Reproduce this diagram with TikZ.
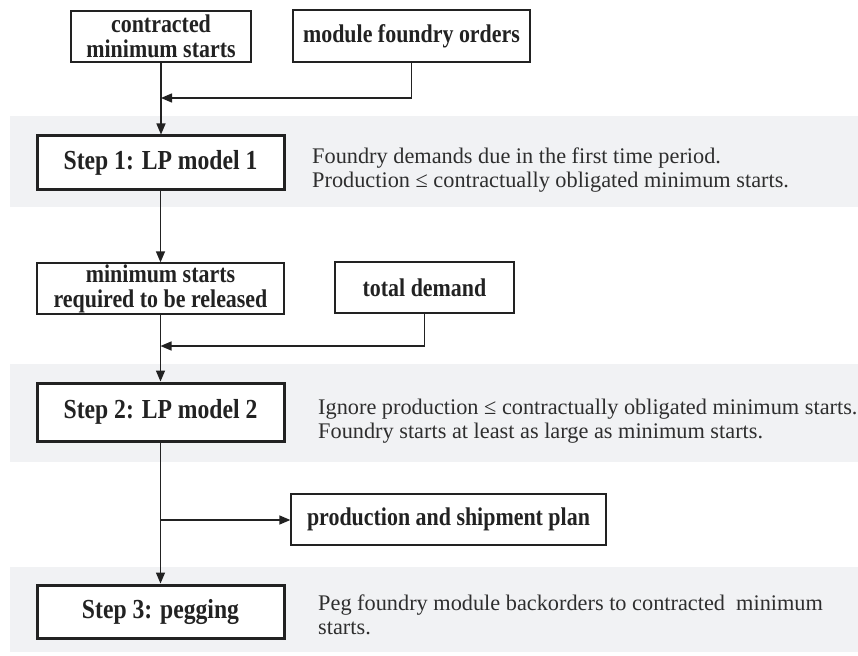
\documentclass[tikz,border=0pt]{standalone}
\usepackage{fontspec}
\setmainfont{Liberation Serif}
\newfontfamily\boxfont[FakeStretch=0.86]{Liberation Serif}
\usetikzlibrary{arrows.meta,positioning}
\definecolor{bandgray}{HTML}{F1F2F4}
\definecolor{inkdark}{HTML}{222222}
\definecolor{notegray}{HTML}{2E2E2E}
\tikzset{
  plainbox/.style={draw=inkdark, line width=1.3pt, fill=white, align=center,
    font=\boxfont\fontsize{25.5}{25}\selectfont\bfseries, text=inkdark,
    inner sep=0pt},
  stepbox/.style={plainbox, line width=3pt,
    font=\boxfont\fontsize{27.5}{28}\selectfont\bfseries},
  note/.style={anchor=west, align=left, text=notegray, inner sep=0pt,
    font=\fontsize{22.3}{24}\selectfont},
  flow/.style={draw=inkdark, line width=1.4pt},
  flowarrow/.style={flow, -{Triangle[length=11pt,width=9pt]}},
}
\begin{document}
\begin{tikzpicture}[x=1pt,y=-1pt]
  \useasboundingbox (0,0) rectangle (858,655);
  \clip (0,0) rectangle (858,655);

  % shaded bands behind the three steps
  \fill[bandgray] (10,116) rectangle (858,207);
  \fill[bandgray] (10,364) rectangle (858,462);
  \fill[bandgray] (10,567) rectangle (858,652);

  % inputs
  \node[plainbox, minimum width=180pt, minimum height=51pt] (cms) at (161,36.5)
    {contracted\\ minimum starts};
  \node[plainbox, minimum width=237pt, minimum height=52pt] (mfo) at (411.5,36)
    {module foundry orders};

  % step 1
  \node[stepbox, minimum width=247pt, minimum height=53pt] (s1) at (160.5,162.5)
    {Step 1: LP model 1};
  \node[note] (n1) at (312,170)
    {Foundry demands due in the first time period.\\
     Production ≤ contractually obligated minimum starts.};

  % intermediate results
  \node[plainbox, minimum width=247pt, minimum height=51pt] (msr) at (160.5,288.5)
    {minimum starts\\ required to be released};
  \node[plainbox, minimum width=179pt, minimum height=51pt] (td) at (424.5,287.5)
    {total demand};

  % step 2
  \node[stepbox, minimum width=247pt, minimum height=58pt] (s2) at (160.5,412)
    {Step 2: LP model 2};
  \node[note] (n2) at (318,421)
    {Ignore production ≤ contractually obligated minimum starts.\\
     Foundry starts at least as large as minimum starts.};

  % output
  \node[plainbox, minimum width=315pt, minimum height=51pt] (ps) at (448.5,519.5)
    {production and shipment plan};

  % step 3
  \node[stepbox, minimum width=247pt, minimum height=53pt] (s3) at (160.5,611.5)
    {Step 3: pegging};
  \node[note] (n3) at (318,615)
    {Peg foundry module backorders to contracted\ \ minimum\\
     starts.};

  % junction points on the main line
  \coordinate (j1) at (cms.south |- 0,98);
  \coordinate (j2) at (msr.south |- 0,346);
  \coordinate (j3) at (s2.south |- 0,520);

  % connectors
  \draw[flow] (cms.south) -- (j1);
  \draw[flowarrow] (j1) -- (s1.north -| j1);
  \draw[flowarrow] (mfo.south) |- (j1);
  \draw[flowarrow] (s1.south) -- (msr.north);
  \draw[flow] (msr.south) -- (j2);
  \draw[flowarrow] (j2) -- (s2.north);
  \draw[flowarrow] (td.south) |- (j2);
  \draw[flow] (s2.south) -- (j3);
  \draw[flowarrow] (j3) -- (s3.north);
  \draw[flowarrow] (j3) -- (ps.west |- j3);
\end{tikzpicture}
\end{document}
